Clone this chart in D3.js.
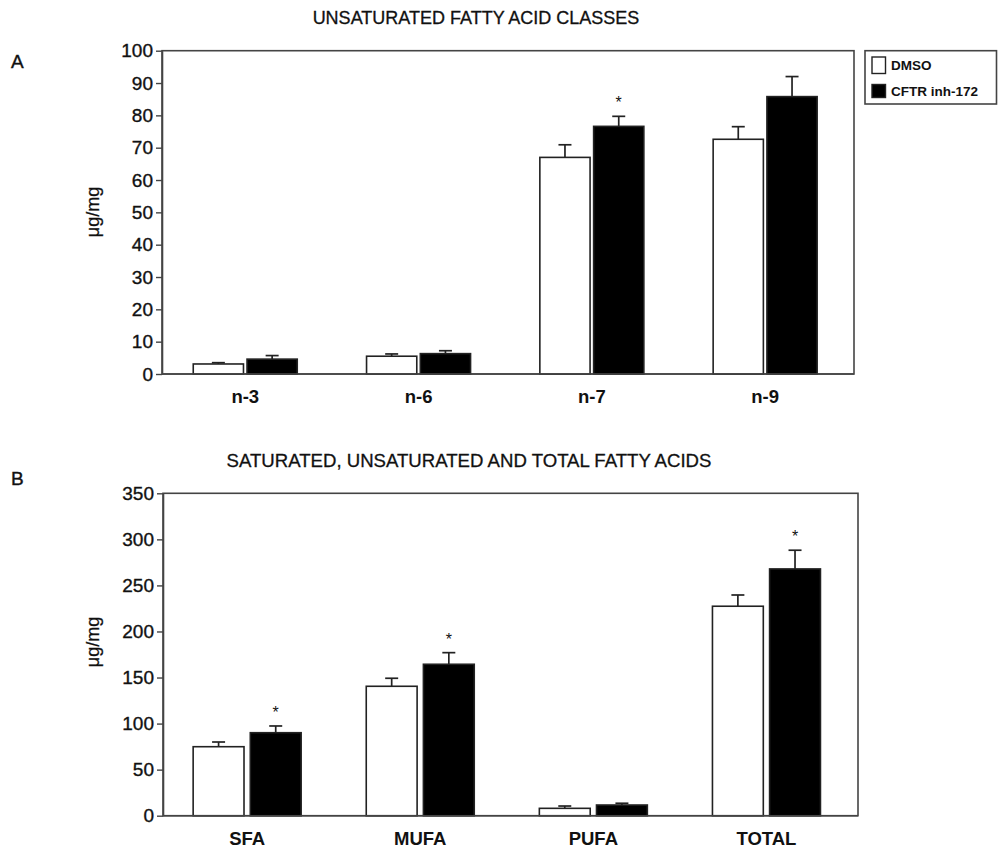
<!DOCTYPE html>
<html>
<head>
<meta charset="utf-8">
<script src="https://cdn.jsdelivr.net/npm/d3@7"></script>
<style>
  html, body { margin: 0; padding: 0; background: #fff; }
  svg { display: block; font-family: Arial, "Liberation Sans", sans-serif; }
</style>
</head>
<body>
<svg id="chart" width="998" height="853"></svg>
<script>
// Series shared by both panels
const series = ["DMSO", "CFTR inh-172"];
const seriesFill = ["#ffffff", "#000000"];

// Panel A: unsaturated fatty acid classes (µg/mg)
const classCategories = ["n-3", "n-6", "n-7", "n-9"];
const classDMSO = [3.1, 5.5, 67.0, 72.6];
const classDMSOErr = [0.4, 0.7, 3.9, 3.9];
const classCFTR = [4.6, 6.3, 76.6, 85.8];
const classCFTRErr = [1.1, 0.9, 3.1, 6.2];
const classSignificant = [false, false, true, false];
const classTicks = [0, 10, 20, 30, 40, 50, 60, 70, 80, 90, 100];

// Panel B: saturated, unsaturated and total fatty acids (µg/mg)
const totalCategories = ["SFA", "MUFA", "PUFA", "TOTAL"];
const totalDMSO = [74.9, 140.5, 8.0, 227.4];
const totalDMSOErr = [5.1, 8.7, 2.5, 12.2];
const totalCFTR = [90.1, 164.4, 11.6, 267.9];
const totalCFTRErr = [7.3, 12.6, 1.9, 20.3];
const totalSignificant = [true, true, false, true];
const totalTicks = [0, 50, 100, 150, 200, 250, 300, 350];

const svg = d3.select("#chart");
const ink = "#222";
const textInk = "#111";

// Slightly heavier glyphs, like a printed figure
function heavy(sel, w) {
  return sel.attr("stroke", textInk).attr("stroke-width", w).attr("paint-order", "stroke");
}

function drawPanel(cfg) {
  const g = svg.append("g");
  const y = d3.scaleLinear().domain([0, cfg.max]).range([cfg.bottom, cfg.top]);
  const x0 = d3.scaleBand().domain(cfg.categories).range(cfg.bandRange).padding(0);
  const x1 = d3.scaleBand().domain(series)
    .range([x0.step() / 2 - cfg.groupWidth / 2, x0.step() / 2 + cfg.groupWidth / 2])
    .paddingInner(cfg.innerPad);

  // Frame
  g.append("rect")
    .attr("x", cfg.left).attr("y", cfg.top)
    .attr("width", cfg.right - cfg.left).attr("height", cfg.bottom - cfg.top)
    .attr("fill", "none").attr("stroke", "#444").attr("stroke-width", 1.6);

  // Y axis
  const yAxis = g.append("g")
    .attr("transform", `translate(${cfg.left},0)`)
    .call(d3.axisLeft(y).tickValues(cfg.ticks).tickSize(6).tickPadding(3).tickSizeOuter(0));
  yAxis.select(".domain").attr("stroke", "#444").attr("stroke-width", 1.6);
  yAxis.selectAll(".tick line").attr("stroke", "#444").attr("stroke-width", 1.4);
  heavy(yAxis.selectAll(".tick text")
    .attr("fill", textInk).style("font-size", "19px")
    .style("font-family", "Arial, 'Liberation Sans', sans-serif"), 0.35);

  // Category labels
  g.selectAll(".cat").data(cfg.categories).join("text")
    .attr("x", d => x0(d) + x0.step() / 2)
    .attr("y", cfg.bottom + 29)
    .attr("text-anchor", "middle")
    .attr("font-size", 18.5).attr("font-weight", "bold").attr("fill", textInk)
    .text(d => d);

  const rows = cfg.categories.map((c, i) => ({
    cat: c,
    vals: [
      { s: series[0], v: cfg.dmso[i], e: cfg.dmsoErr[i], fill: seriesFill[0] },
      { s: series[1], v: cfg.cftr[i], e: cfg.cftrErr[i], fill: seriesFill[1], star: cfg.sig[i] }
    ]
  }));

  const grp = g.selectAll(".grp").data(rows).join("g")
    .attr("transform", d => `translate(${x0(d.cat)},0)`);

  // Error bars (drawn first, bars cover the lower end)
  grp.selectAll(".err").data(d => d.vals).join("g").each(function (d) {
    const cx = x1(d.s) + x1.bandwidth() / 2;
    const sel = d3.select(this);
    sel.append("line").attr("x1", cx).attr("x2", cx)
      .attr("y1", y(d.v)).attr("y2", y(d.v + d.e))
      .attr("stroke", ink).attr("stroke-width", 1.7);
    sel.append("line").attr("x1", cx - 6.5).attr("x2", cx + 6.5)
      .attr("y1", y(d.v + d.e)).attr("y2", y(d.v + d.e))
      .attr("stroke", ink).attr("stroke-width", 1.7);
    if (d.star) {
      sel.append("text").attr("x", cx).attr("y", y(d.v + d.e) - 8)
        .attr("text-anchor", "middle").attr("font-size", 16).attr("fill", textInk)
        .text("*");
    }
  });

  grp.selectAll(".bar").data(d => d.vals).join("rect")
    .attr("x", d => x1(d.s))
    .attr("width", x1.bandwidth())
    .attr("y", d => y(d.v))
    .attr("height", d => y(0) - y(d.v))
    .attr("fill", d => d.fill)
    .attr("stroke", ink).attr("stroke-width", 1.6);

  // Baseline drawn over the bars
  g.append("line").attr("x1", cfg.left).attr("x2", cfg.right)
    .attr("y1", cfg.bottom).attr("y2", cfg.bottom)
    .attr("stroke", "#444").attr("stroke-width", 1.6);

  // Titles and labels
  heavy(svg.append("text").attr("x", cfg.titleX).attr("y", cfg.titleY)
    .attr("text-anchor", "middle").attr("font-size", cfg.titleSize).attr("fill", textInk)
    .text(cfg.title), 0.3);
  heavy(svg.append("text").attr("x", 11).attr("y", cfg.letterY)
    .attr("font-size", 19).attr("fill", textInk).text(cfg.letter), 0.4);
  heavy(svg.append("text")
    .attr("transform", `translate(99,${cfg.labelY}) rotate(-90)`)
    .attr("text-anchor", "middle").attr("font-size", 18).attr("fill", textInk)
    .text("μg/mg"), 0.25);
}

drawPanel({
  categories: classCategories, dmso: classDMSO, dmsoErr: classDMSOErr,
  cftr: classCFTR, cftrErr: classCFTRErr, sig: classSignificant,
  ticks: classTicks, max: 100,
  left: 162, right: 854, top: 50.7, bottom: 374,
  bandRange: [158.6, 851.8], groupWidth: 104, innerPad: 0.066,
  title: "UNSATURATED FATTY ACID CLASSES", titleX: 476, titleY: 24, titleSize: 18,
  letter: "A", letterY: 68, labelY: 212
});

drawPanel({
  categories: totalCategories, dmso: totalDMSO, dmsoErr: totalDMSOErr,
  cftr: totalCFTR, cftrErr: totalCFTRErr, sig: totalSignificant,
  ticks: totalTicks, max: 350,
  left: 163, right: 858, top: 493.3, bottom: 815.7,
  bandRange: [160.6, 853], groupWidth: 108, innerPad: 0.11,
  title: "SATURATED, UNSATURATED AND TOTAL FATTY ACIDS", titleX: 469, titleY: 467, titleSize: 18.6,
  letter: "B", letterY: 485, labelY: 642
});

// Legend
const legend = svg.append("g");
legend.append("rect").attr("x", 865).attr("y", 50.7).attr("width", 131.5).attr("height", 53.3)
  .attr("fill", "#fff").attr("stroke", "#444").attr("stroke-width", 1.6);
legend.selectAll(".sw").data(series).join("rect")
  .attr("x", 872).attr("y", (d, i) => 57 + i * 27.5)
  .attr("width", 13.5).attr("height", (d, i) => i === 0 ? 16.5 : 13)
  .attr("fill", (d, i) => seriesFill[i]).attr("stroke", ink).attr("stroke-width", 1.4);
legend.selectAll(".lt").data(series).join("text")
  .attr("x", 891).attr("y", (d, i) => 70 + i * 26)
  .attr("font-size", 13.5).attr("font-weight", "bold").attr("fill", textInk)
  .text(d => d);
</script>
</body>
</html>
